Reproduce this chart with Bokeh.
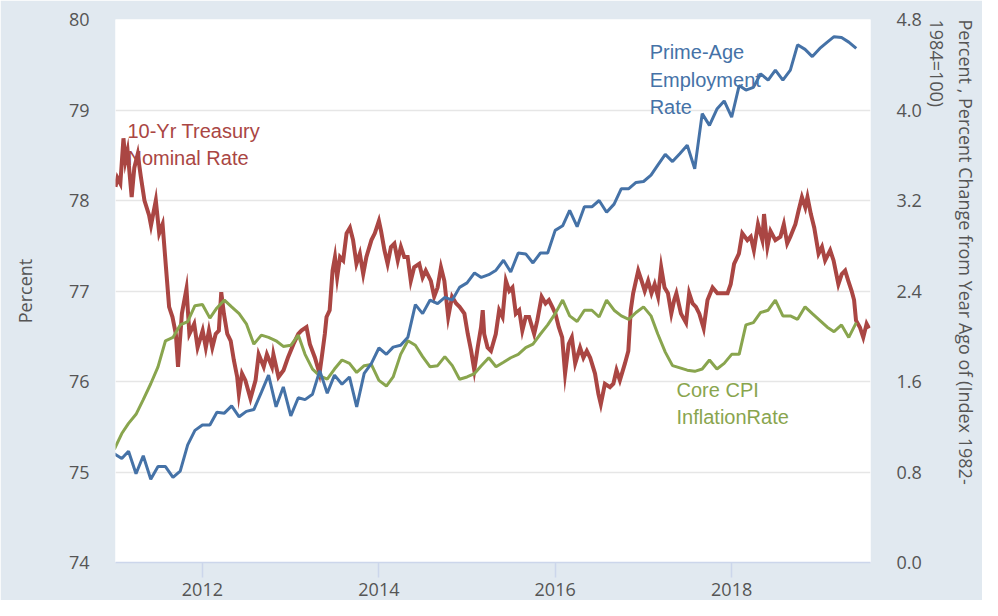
import numpy as np
import pandas as pd
from bokeh.plotting import figure
from bokeh.models import (Range1d, LinearAxis, FixedTicker, DatetimeTickFormatter,
                          PrintfTickFormatter, Label, Title)
from bokeh.embed import file_html
from bokeh.resources import INLINE

# ---------------- data ----------------
month_start = "2011-01-01"

employment = [75.20, 75.15, 75.23, 74.98, 75.18, 74.92, 75.06, 75.06, 74.94, 75.01, 75.30, 75.46,
              75.52, 75.52, 75.66, 75.65, 75.73, 75.61, 75.67, 75.69, 75.88, 76.07, 75.72, 75.94,
              75.62, 75.82, 75.80, 75.86, 76.12, 75.87, 76.07, 75.97, 76.05, 75.72, 76.09, 76.20,
              76.37, 76.30, 76.38, 76.40, 76.49, 76.85, 76.75, 76.90, 76.86, 76.93, 76.90, 77.04,
              77.09, 77.20, 77.15, 77.18, 77.23, 77.34, 77.21, 77.42, 77.41, 77.31, 77.42, 77.42,
              77.67, 77.72, 77.89, 77.71, 77.93, 77.93, 78.00, 77.87, 77.96, 78.13, 78.13, 78.20,
              78.21, 78.28, 78.39, 78.51, 78.43, 78.52, 78.61, 78.35, 78.96, 78.83, 79.01, 79.10,
              78.92, 79.27, 79.22, 79.25, 79.40, 79.33, 79.44, 79.33, 79.44, 79.72, 79.67, 79.59,
              79.68, 79.75, 79.81, 79.80, 79.75, 79.68]

core_cpi = [1.00, 1.14, 1.23, 1.31, 1.44, 1.58, 1.73, 1.96, 1.99, 2.10, 2.13, 2.27,
            2.28, 2.16, 2.25, 2.32, 2.26, 2.20, 2.11, 1.93, 2.01, 1.99, 1.96, 1.91,
            1.92, 2.01, 1.84, 1.71, 1.65, 1.62, 1.71, 1.79, 1.76, 1.68, 1.74, 1.75,
            1.61, 1.56, 1.64, 1.84, 1.96, 1.92, 1.82, 1.73, 1.74, 1.82, 1.74, 1.62,
            1.64, 1.67, 1.74, 1.81, 1.73, 1.77, 1.81, 1.84, 1.90, 1.93, 2.02, 2.10,
            2.20, 2.32, 2.18, 2.13, 2.23, 2.23, 2.17, 2.32, 2.23, 2.18, 2.15, 2.21,
            2.26, 2.18, 2.02, 1.86, 1.74, 1.72, 1.70, 1.69, 1.71, 1.79, 1.71, 1.76,
            1.84, 1.84, 2.10, 2.12, 2.21, 2.23, 2.32, 2.18, 2.18, 2.15, 2.26, 2.20,
            2.14, 2.08, 2.04, 2.10, 1.99, 2.12]

treasury_dates = [
    "2011-01-06", "2011-01-14", "2011-01-26", "2011-02-08", "2011-02-16", "2011-02-25",
    "2011-03-14", "2011-03-25", "2011-04-08", "2011-04-21", "2011-05-06", "2011-05-25",
    "2011-06-02", "2011-06-22", "2011-07-06", "2011-07-20", "2011-08-03", "2011-08-16",
    "2011-08-30", "2011-09-13", "2011-09-22", "2011-10-08", "2011-10-27", "2011-11-08",
    "2011-11-28", "2011-12-12", "2012-01-02", "2012-01-15", "2012-01-28", "2012-02-11",
    "2012-02-25", "2012-03-09", "2012-03-19", "2012-03-30", "2012-04-13", "2012-04-27",
    "2012-05-10", "2012-05-24", "2012-05-31", "2012-06-13", "2012-06-27", "2012-07-18",
    "2012-08-08", "2012-08-21", "2012-09-11", "2012-09-24", "2012-10-15", "2012-10-21",
    "2012-11-11", "2012-12-02", "2012-12-20", "2013-01-12", "2013-02-01", "2013-02-14",
    "2013-03-07", "2013-03-21", "2013-04-11", "2013-04-30", "2013-05-09", "2013-05-22",
    "2013-05-29", "2013-06-11", "2013-06-23", "2013-07-03", "2013-07-12", "2013-07-24",
    "2013-08-06", "2013-08-20", "2013-09-03", "2013-09-16", "2013-09-30", "2013-10-14",
    "2013-10-28", "2013-11-10", "2013-12-01", "2013-12-15", "2014-01-01", "2014-01-10",
    "2014-01-24", "2014-02-06", "2014-02-20", "2014-03-06", "2014-03-20", "2014-04-02",
    "2014-04-16", "2014-04-30", "2014-05-13", "2014-05-27", "2014-06-17", "2014-07-01",
    "2014-07-14", "2014-08-04", "2014-08-18", "2014-09-01", "2014-09-15", "2014-09-29",
    "2014-10-15", "2014-10-31", "2014-11-17", "2014-12-01", "2014-12-21", "2015-01-04",
    "2015-01-18", "2015-01-31", "2015-02-14", "2015-02-28", "2015-03-07", "2015-03-13",
    "2015-03-27", "2015-04-10", "2015-04-30", "2015-05-14", "2015-05-28", "2015-06-11",
    "2015-06-25", "2015-07-08", "2015-07-22", "2015-08-05", "2015-08-18", "2015-09-01",
    "2015-09-15", "2015-10-06", "2015-10-19", "2015-11-06", "2015-11-22", "2015-12-06",
    "2015-12-20", "2016-01-02", "2016-01-16", "2016-01-30", "2016-02-11", "2016-02-26",
    "2016-03-10", "2016-03-24", "2016-04-13", "2016-04-27", "2016-05-11", "2016-05-25",
    "2016-06-14", "2016-06-28", "2016-07-08", "2016-07-25", "2016-08-15", "2016-08-29",
    "2016-09-11", "2016-09-25", "2016-10-16", "2016-10-30", "2016-11-09", "2016-11-19",
    "2016-12-10", "2016-12-24", "2017-01-06", "2017-01-20", "2017-02-03", "2017-02-16",
    "2017-03-02", "2017-03-15", "2017-03-29", "2017-04-12", "2017-04-26", "2017-05-08",
    "2017-05-17", "2017-06-05", "2017-06-26", "2017-07-09", "2017-07-23", "2017-08-06",
    "2017-08-20", "2017-09-07", "2017-09-23", "2017-10-14", "2017-11-03", "2017-11-24",
    "2017-12-15", "2017-12-28", "2018-01-11", "2018-01-31", "2018-02-14", "2018-03-07",
    "2018-03-21", "2018-04-03", "2018-04-20", "2018-05-08", "2018-05-15", "2018-05-29",
    "2018-06-11", "2018-07-01", "2018-07-22", "2018-08-05", "2018-08-19", "2018-09-01",
    "2018-09-22", "2018-10-05", "2018-10-19", "2018-11-02", "2018-11-11", "2018-11-25",
    "2018-12-09", "2018-12-27", "2019-01-10", "2019-01-23", "2019-02-13", "2019-02-27",
    "2019-03-19", "2019-04-02", "2019-04-16", "2019-04-29", "2019-05-13", "2019-05-23",
    "2019-05-31", "2019-06-16", "2019-06-30", "2019-07-14", "2019-07-24"]

treasury = [
    3.32, 3.40, 3.35, 3.75, 3.55, 3.64,
    3.23, 3.49, 3.61, 3.41, 3.20, 3.07,
    2.98, 3.20, 2.91, 2.99, 2.61, 2.26,
    2.17, 2.02, 1.73, 2.20, 2.42, 2.02,
    2.11, 1.90, 2.05, 1.90, 2.05, 1.90,
    2.02, 2.05, 2.39, 2.20, 2.02, 1.96,
    1.79, 1.64, 1.49, 1.67, 1.61, 1.45,
    1.61, 1.84, 1.73, 1.84, 1.73, 1.84,
    1.64, 1.70, 1.81, 1.93, 2.02, 2.05,
    2.08, 1.93, 1.81, 1.67, 1.81, 2.02,
    2.17, 2.23, 2.58, 2.70, 2.52, 2.70,
    2.67, 2.91, 2.96, 2.85, 2.64, 2.73,
    2.55, 2.70, 2.85, 2.91, 3.02, 2.93,
    2.76, 2.64, 2.79, 2.82, 2.67, 2.79,
    2.70, 2.70, 2.49, 2.61, 2.64, 2.52,
    2.58, 2.49, 2.35, 2.43, 2.61, 2.49,
    2.17, 2.35, 2.29, 2.26, 2.20, 2.02,
    1.87, 1.70, 1.90, 2.08, 2.23, 2.02,
    1.90, 1.87, 2.02, 2.23, 2.17, 2.49,
    2.40, 2.43, 2.20, 2.23, 2.05, 2.17,
    2.17, 2.02, 2.14, 2.35, 2.29, 2.32,
    2.26, 2.20, 2.08, 1.99, 1.67, 1.93,
    1.99, 1.76, 1.90, 1.81, 1.87, 1.81,
    1.67, 1.49, 1.40, 1.58, 1.55, 1.58,
    1.70, 1.61, 1.76, 1.87, 2.23, 2.38,
    2.58, 2.49, 2.40, 2.49, 2.38, 2.46,
    2.35, 2.61, 2.43, 2.38, 2.20, 2.32,
    2.38, 2.20, 2.12, 2.38, 2.29, 2.26,
    2.20, 2.07, 2.32, 2.43, 2.38, 2.38,
    2.38, 2.46, 2.64, 2.73, 2.91, 2.85,
    2.88, 2.76, 2.99, 2.85, 3.08, 2.79,
    2.93, 2.85, 2.88, 2.99, 2.82, 2.88,
    2.99, 3.11, 3.23, 3.14, 3.23, 3.08,
    2.96, 2.73, 2.79, 2.67, 2.76, 2.67,
    2.46, 2.55, 2.58, 2.49, 2.40, 2.32,
    2.14, 2.08, 1.99, 2.11, 2.07]

left_ticks = [74, 75, 76, 77, 78, 79, 80]
right_ticks = [0.0, 0.8, 1.6, 2.4, 3.2, 4.0, 4.8]
x_tick_years = [2012, 2014, 2016, 2018]
x_start, x_end = "2011-01-06", "2019-07-30"
right_title_1 = "Percent , Percent Change from Year Ago of (Index 1982-"
right_title_2 = "1984=100)"

# ---------------- styles ----------------
BG = "#e1e9f0"
RED, BLUE, GREEN = "#aa4643", "#4572a7", "#89a54e"
TXT = "#555555"
TICK_FONT = "Open Sans"
SERIES_FONT = "Liberation Sans"

# frame position (reference pixels)
FL, FR, FT, FB = 115, 874, 19, 562
W, H = 982, 600

months = pd.date_range(month_start, periods=len(employment), freq="MS")
tdates = pd.to_datetime(treasury_dates)

x0 = pd.Timestamp(x_start)
x1 = pd.Timestamp(x_end)
x0_ms = x0.value / 1e6
x1_ms = x1.value / 1e6

p = figure(width=W, height=H, x_axis_type="datetime",
           x_range=Range1d(x0, x1), y_range=Range1d(74, 80),
           output_backend="svg", toolbar_location=None,
           min_border_left=FL, min_border_right=W - FR,
           min_border_top=FT, min_border_bottom=H - FB,
           background_fill_color="white", border_fill_color=BG,
           outline_line_color=None)
p.extra_y_ranges = {"right": Range1d(0, 4.8)}

# grid
p.xgrid.visible = False
p.ygrid.ticker = FixedTicker(ticks=left_ticks)
p.ygrid.grid_line_color = "#e6e6e6"
p.ygrid.grid_line_width = 1.5

# left axis
ya = p.yaxis[0]
ya.ticker = FixedTicker(ticks=left_ticks)
ya.axis_line_color = None
ya.major_tick_line_color = None
ya.minor_tick_line_color = None
ya.major_tick_out = 0
ya.major_tick_in = 0
ya.major_label_standoff = 26
ya.major_label_text_font = TICK_FONT
ya.major_label_text_font_size = "18px"
ya.major_label_text_color = TXT
ya.axis_label = "Percent"
ya.axis_label_text_font = TICK_FONT
ya.axis_label_text_font_size = "18px"
ya.axis_label_text_font_style = "normal"
ya.axis_label_text_color = TXT
ya.axis_label_standoff = 29

# right axis
ra = LinearAxis(y_range_name="right", ticker=FixedTicker(ticks=right_ticks),
                formatter=PrintfTickFormatter(format="%.1f"))
ra.axis_line_color = None
ra.major_tick_line_color = None
ra.minor_tick_line_color = None
ra.major_tick_out = 0
ra.major_tick_in = 0
ra.major_label_standoff = 26
ra.major_label_text_font = TICK_FONT
ra.major_label_text_font_size = "18px"
ra.major_label_text_color = TXT
p.add_layout(ra, "right")

# right axis title, two lines reading top to bottom
for txt, so in ((right_title_2, 0), (right_title_1, 6)):
    p.add_layout(Title(text=txt, align="left", text_font=TICK_FONT, text_font_size="18px",
                       text_font_style="normal", text_color=TXT, standoff=so), "right")

# x axis
xa = p.xaxis[0]
xa.ticker = FixedTicker(ticks=[pd.Timestamp(f"{y}-01-01").value / 1e6 for y in x_tick_years])
xa.formatter = DatetimeTickFormatter(years="%Y", months="%Y", days="%Y", hours="%Y",
                                     minutes="%Y", seconds="%Y", milliseconds="%Y",
                                     microseconds="%Y", minsec="%Y", hourmin="%Y")
xa.axis_line_color = "#ccd6eb"
xa.axis_line_width = 1.5
xa.major_tick_line_color = "#ccd6eb"
xa.major_tick_line_width = 1.5
xa.minor_tick_line_color = None
xa.major_tick_out = 15
xa.major_tick_in = 0
xa.major_label_standoff = 5
xa.major_label_text_font = TICK_FONT
xa.major_label_text_font_size = "18px"
xa.major_label_text_color = TXT

# series
p.line(tdates, treasury, y_range_name="right", line_color=RED, line_width=4,
       line_join="miter")
p.line(months, core_cpi, y_range_name="right", line_color=GREEN, line_width=3)
p.line(months, employment, line_color=BLUE, line_width=3)

# helpers: pixel -> data coordinate (for text placement)
def px_x(px):
    return x0_ms + (px - FL) / (FR - FL) * (x1_ms - x0_ms)

def px_y(py):
    return 80 - (py - FT) / (FB - FT) * 6

def add_text(txt, px, py, color, size="20px"):
    p.add_layout(Label(x=px_x(px), y=px_y(py), text=txt, text_color=color,
                       text_font=SERIES_FONT, text_font_size=size,
                       text_align="left", text_baseline="alphabetic"))

add_text("10-Yr Treasury", 127, 130, RED)
add_text("Nominal Rate", 127, 157, RED)
add_text("Prime-Age", 652, 51.5, BLUE)
add_text("Employment", 652, 79, BLUE)
add_text("Rate", 652, 106, BLUE)
add_text("Core CPI", 679, 389, GREEN)
add_text("InflationRate", 679, 416.5, GREEN)

open("out.html", "w").write(file_html(p, INLINE))
